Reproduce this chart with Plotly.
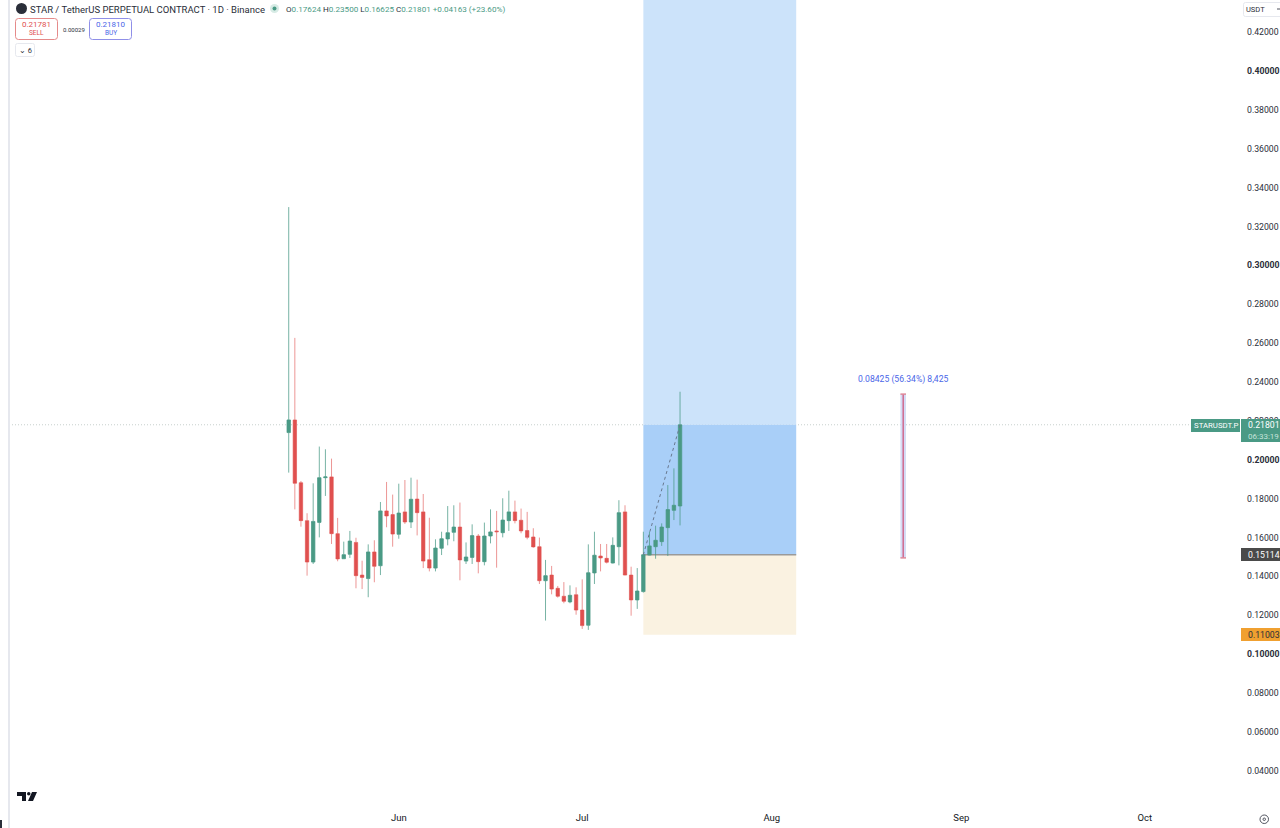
import pandas as pd
import plotly.graph_objects as go

# daily candles (last one comes from the header)
dates = pd.date_range("2025-05-14", periods=65, freq="D")
opens = [.2140, .2205, .1882, .1687, .1474, .1678, .1908, .1912, .1620, .1491,
         .1514, .1575, .1407, .1389, .1526, .1455, .1737, .1718, .1617, .1732,
         .1680, .1798, .1732, .1486, .1443, .1545, .1593, .1627, .1654, .1479,
         .1498, .1608, .1476, .1608, .1634, .1625, .1687, .1732, .1689, .1636,
         .1603, .1553, .1378, .1407, .1339, .1298, .1269, .1306, .1227, .1149,
         .1418, .1505, .1493, .1469, .1553, .1732, .1407, .1279, .1322, .1510,
         .1553, .1579, .1651, .1740, .17624]
highs = [.3300, .2627, .1891, .1725, .1879, .2068, .2054, .2006, .1701, .1579,
         .1634, .1599, .1481, .1565, .1586, .1783, .1886, .1821, .1877, .1896,
         .1908, .1898, .1824, .1702, .1591, .1630, .1762, .1766, .1780, .1575,
         .1668, .1618, .1677, .1745, .1737, .1802, .1841, .1790, .1749, .1732,
         .1648, .1600, .1485, .1454, .1351, .1371, .1354, .1344, .1385, .1565,
         .1630, .1567, .1567, .1601, .1792, .1766, .1450, .1443, .1630, .1630,
         .1661, .1673, .1870, .1956, .23500]
lows = [.1934, .1745, .1656, .1404, .1464, .1601, .1814, .1567, .1478, .1491,
        .1495, .1339, .1335, .1293, .1370, .1407, .1653, .1553, .1594, .1670,
        .1649, .1611, .1443, .1426, .1426, .1510, .1560, .1581, .1380, .1464,
        .1464, .1416, .1457, .1570, .1445, .1601, .1634, .1673, .1622, .1591,
        .1548, .1361, .1173, .1308, .1291, .1262, .1262, .1203, .1130, .1125,
        .1361, .1426, .1467, .1467, .1457, .1406, .1198, .1233, .1317, .1509,
        .1491, .1557, .1505, .1690, .16625]
closes = [.2205, .1879, .1687, .1474, .1683, .1908, .1912, .1620, .1490, .1512,
          .1582, .1404, .1395, .1526, .1452, .1737, .1711, .1618, .1726, .1680,
          .1797, .1728, .1479, .1443, .1546, .1594, .1625, .1654, .1485, .1500,
          .1610, .1476, .1608, .1629, .1630, .1690, .1732, .1687, .1634, .1601,
          .1552, .1378, .1404, .1335, .1298, .1272, .1303, .1227, .1147, .1419,
          .1509, .1495, .1473, .1560, .1728, .1407, .1279, .1325, .1512, .1557,
          .1586, .1654, .1744, .1766, .21801]

last_price = 0.21801
entry_price = 0.15114
stop_price = 0.11003
target_price = 0.45
measure_low = 0.14954
measure_high = 0.23379

y_ticks = [.04, .06, .08, .10, .12, .14, .16, .18, .20, .22, .24, .26, .28, .30,
           .32, .34, .36, .38, .40, .42]
month_ticks = ["2025-06-01", "2025-07-01", "2025-08-01", "2025-09-01", "2025-10-01"]
month_labels = ["Jun", "Jul", "Aug", "Sep", "Oct"]

FONT = "Roboto, Arial, sans-serif"
GREEN = "#4a9a85"
RED = "#e0504f"
INK = "#131722"

# plot area in window pixels
L, R, T, B = 9, 1240, 0, 808


def px(x):
    return (x - L) / (R - L)


def py(y):
    return 1 - (y - T) / (B - T)


def label(x, y, text, size=10, color=INK, anchor="left", **kw):
    fig.add_annotation(x=px(x), y=py(y), xref="paper", yref="paper", text=text,
                       showarrow=False, xanchor=anchor, yanchor="middle",
                       font=dict(family=FONT, size=size, color=color),
                       borderpad=0, **kw)


def paper_rect(x0, y0, x1, y1, **kw):
    fig.add_shape(type="rect", xref="paper", yref="paper", x0=px(x0), x1=px(x1),
                  y0=py(y0), y1=py(y1), **kw)


def round_box(x0, y0, x1, y1, color, r=3):
    p = (f"M {px(x0 + r)} {py(y0)} L {px(x1 - r)} {py(y0)} Q {px(x1)} {py(y0)} {px(x1)} {py(y0 + r)} "
         f"L {px(x1)} {py(y1 - r)} Q {px(x1)} {py(y1)} {px(x1 - r)} {py(y1)} "
         f"L {px(x0 + r)} {py(y1)} Q {px(x0)} {py(y1)} {px(x0)} {py(y1 - r)} "
         f"L {px(x0)} {py(y0 + r)} Q {px(x0)} {py(y0)} {px(x0 + r)} {py(y0)} Z")
    fig.add_shape(type="path", xref="paper", yref="paper", path=p,
                  line=dict(color=color, width=1), fillcolor="white")


fig = go.Figure()

# long position tool, under the candles
pos_start, pos_end = "2025-07-11", "2025-08-05"
for y0, y1, col in [(last_price, target_price, "#cce3fa"),
                    (entry_price, last_price, "#a9cff8"),
                    (stop_price, entry_price, "#faf2e1")]:
    fig.add_shape(type="rect", x0=pos_start, x1=pos_end, y0=y0, y1=y1, fillcolor=col,
                  line_width=0, layer="below")
fig.add_shape(type="line", x0=pos_start, x1=pos_end, y0=entry_price, y1=entry_price,
              line=dict(color="#9a9a9a", width=1.5), layer="below")
fig.add_shape(type="line", xref="paper", x0=0, x1=px(1191), y0=last_price, y1=last_price,
              line=dict(color="#c8d0cd", width=1, dash="1px,2px"), layer="below")

fig.add_trace(go.Candlestick(
    x=dates, open=opens, high=highs, low=lows, close=closes,
    increasing=dict(line=dict(color="rgba(74,154,133,0.75)", width=1), fillcolor=GREEN),
    decreasing=dict(line=dict(color="rgba(224,80,79,0.6)", width=1), fillcolor=RED),
    whiskerwidth=0, hoverinfo="skip", showlegend=False,
))

# dashed path from entry to last price
fig.add_shape(type="line", x0=pos_start, x1=dates[-1], y0=entry_price, y1=last_price,
              line=dict(color="#68788f", width=1, dash="3px,3px"))

# price range measure
m_left, m_mid, m_right = "2025-08-22 01:00", "2025-08-22 12:00", "2025-08-22 23:00"
fig.add_shape(type="rect", x0=m_left, x1=m_right, y0=measure_low, y1=measure_high,
              fillcolor="#d5dcf5", line_width=0)
fig.add_shape(type="line", x0=m_mid, x1=m_mid, y0=measure_low, y1=measure_high,
              line=dict(color="#d06a90", width=1.5))
for y in (measure_low, measure_high):
    fig.add_shape(type="line", x0=m_left, x1=m_right, y0=y, y1=y,
                  line=dict(color="#e08a9a", width=1.5))
fig.add_annotation(x=m_mid, y=measure_high, yshift=15, showarrow=False,
                   text="0.08425 (56.34%) 8,425",
                   font=dict(family=FONT, size=8.6, color="#4a66e8"))

fig.update_layout(
    width=1280, height=828, margin=dict(l=L, r=1280 - R, t=T, b=828 - B),
    paper_bgcolor="white", plot_bgcolor="white", showlegend=False,
    font=dict(family=FONT, color=INK),
    boxgap=0.2,
    xaxis=dict(range=["2025-03-29 06:00", "2025-10-16 14:00"], rangeslider_visible=False,
               automargin=False, showgrid=False, zeroline=False, showline=False,
               tickvals=month_ticks, ticktext=month_labels,
               tickfont=dict(size=9.5, color=INK), ticks="", ticklabelstandoff=2),
    yaxis=dict(range=[.02088, .43652], side="right", automargin=False, showgrid=False,
               zeroline=False, showline=False, tickvals=y_ticks,
               ticktext=[f"<b>{v:.5f}</b>" if round(v * 100) % 10 == 0 else f"{v:.5f}" for v in y_ticks],
               tickfont=dict(size=8.7, color="#2a2e39"), ticks="", ticklabelstandoff=6),
)

# left toolbar edge and scraps
paper_rect(8, 0, 10, 828, fillcolor="#e6e8ee", line_width=0, layer="above")
paper_rect(0, 820, 2, 828, fillcolor="#2a2e39", line_width=0)

# header
fig.add_shape(type="circle", xref="paper", yref="paper", x0=px(16), x1=px(27), y0=py(14), y1=py(3),
              fillcolor="#2a2e39", line_width=0)
label(29, 9, "STAR / TetherUS PERPETUAL CONTRACT · 1D · Binance", size=9.5, color="#2a2e39")
fig.add_shape(type="circle", xref="paper", yref="paper", x0=px(270), x1=px(279), y0=py(13), y1=py(4),
              fillcolor="#d7ebe5", line_width=0)
fig.add_shape(type="circle", xref="paper", yref="paper", x0=px(272.5), x1=px(276.5), y0=py(10.5), y1=py(6.5),
              fillcolor=GREEN, line_width=0)
ohlc = ("<span style='color:#2a2e39'>O</span>0.17624 <span style='color:#2a2e39'>H</span>0.23500 "
        "<span style='color:#2a2e39'>L</span>0.16625 <span style='color:#2a2e39'>C</span>0.21801 "
        "+0.04163 (+23.60%)")
label(285, 9, ohlc, size=8.1, color=GREEN)
round_box(15.5, 18.5, 57.5, 39.5, "#e58a8a")
round_box(89.5, 18.5, 131.5, 39.5, "#8f8fe8")
label(36.5, 24.5, "0.21781", size=8, color=RED, anchor="center")
label(36.5, 33.5, "SELL", size=6.5, color=RED, anchor="center")
label(73.5, 29, "0.00029", size=6, color="#2a2e39", anchor="center")
label(110.5, 24.5, "0.21810", size=8, color="#4a66e8", anchor="center")
label(110.5, 33.5, "BUY", size=6.5, color="#4a66e8", anchor="center")
round_box(15.5, 43.5, 34.5, 56.5, "#e6e8ee", r=2)
label(25, 50, "⌄ 6", size=7.5, color="#2a2e39", anchor="center")

# price scale tags
round_box(1243.5, 2.5, 1285, 16.5, "#e6e8ee", r=2)
label(1245.5, 9, "USDT", size=7.5, color="#2a2e39")
fig.add_shape(type="line", xref="paper", yref="paper", x0=px(1277), x1=px(1280), y0=py(9), y1=py(9),
              line=dict(color="#50535e", width=1))
paper_rect(1191, 419, 1240, 432, fillcolor=GREEN, line_width=0)
label(1215.5, 425.5, "STARUSDT.P", size=7.8, color="white", anchor="center")
paper_rect(1241, 419, 1280, 442, fillcolor=GREEN, line_width=0)
label(1246.5, 425, "0.21801", size=8.7, color="white")
label(1246.5, 436, "06:33:19", size=8, color="#c5e3da")
paper_rect(1241, 548, 1280, 561, fillcolor="#4a4a4a", line_width=0)
label(1246.5, 555, "0.15114", size=8.7, color="white")
paper_rect(1241, 628, 1280, 641, fillcolor="#f0a030", line_width=0)
label(1246.5, 635, "0.11003", size=8.7, color="#2a2e39")

# TradingView mark
fig.add_shape(type="path", xref="paper", yref="paper", fillcolor="#131722", line_width=0,
              path=(f"M {px(17)} {py(792)} L {px(26)} {py(792)} L {px(26)} {py(801)} L {px(22)} {py(801)} "
                    f"L {px(22)} {py(796)} L {px(17)} {py(796)} Z "
                    f"M {px(32)} {py(792)} L {px(37)} {py(792)} L {px(33)} {py(801)} L {px(28)} {py(801)} Z"))
fig.add_shape(type="circle", xref="paper", yref="paper", x0=px(27), x1=px(30.5), y0=py(795.5), y1=py(792),
              fillcolor="#131722", line_width=0)

# settings icon, bottom right
fig.add_shape(type="circle", xref="paper", yref="paper", x0=px(1260), x1=px(1268.5), y0=py(823.5), y1=py(815),
              line=dict(color="#50535e", width=1))
fig.add_shape(type="circle", xref="paper", yref="paper", x0=px(1263), x1=px(1265.5), y0=py(820.5), y1=py(818),
              line=dict(color="#50535e", width=1))

fig.write_html("out.html", config=dict(displayModeBar=False),
               post_script="document.body.style.margin='0';")
